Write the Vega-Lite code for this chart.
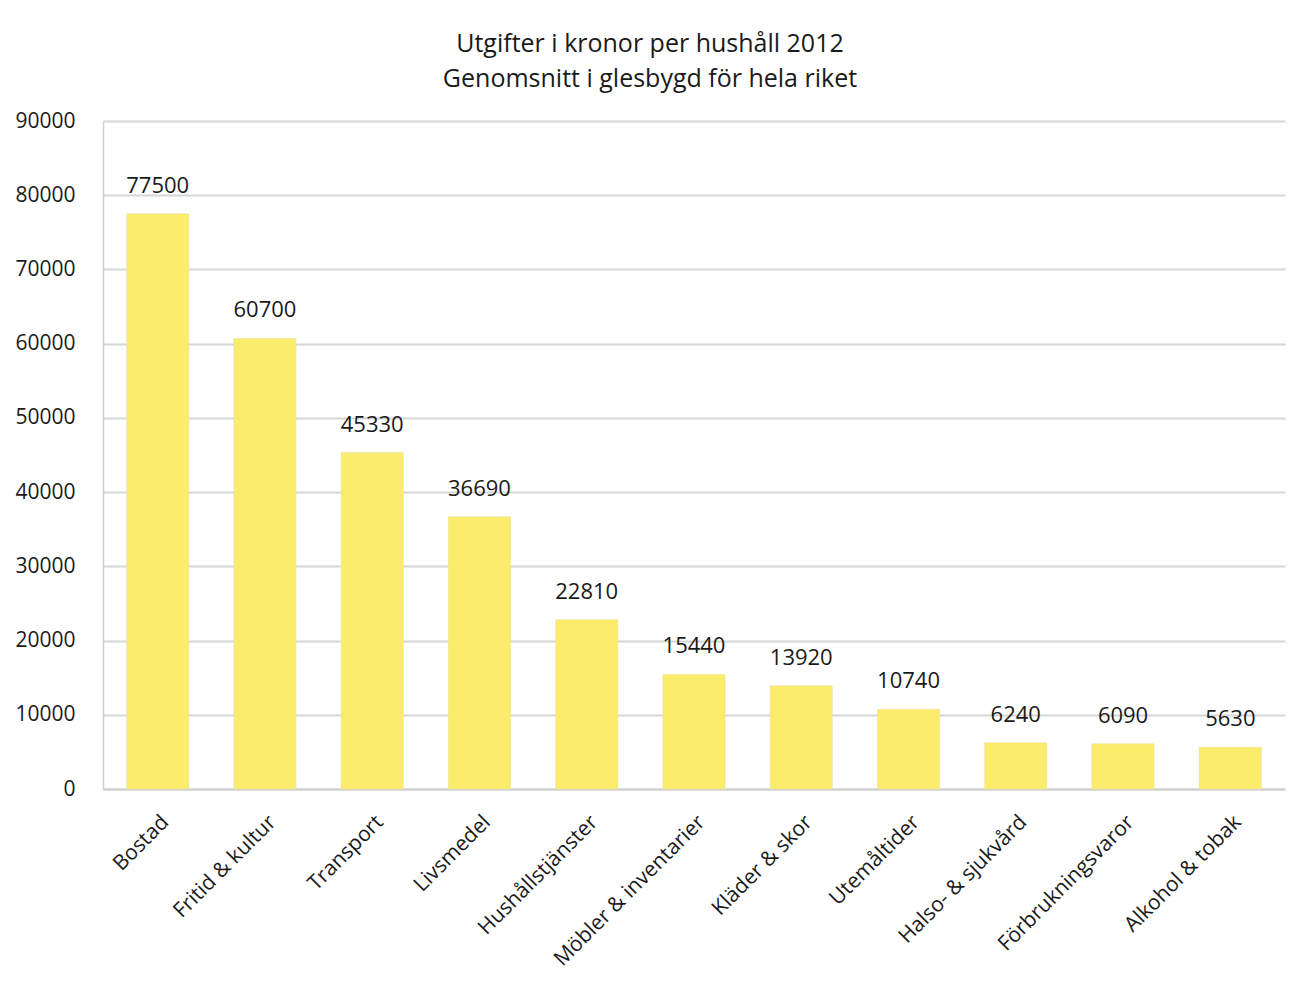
{
  "$schema": "https://vega.github.io/schema/vega-lite/v6.json",
  "width": 1301,
  "height": 981,
  "autosize": {"type": "fit", "contains": "padding"},
  "padding": {"left": 14, "top": 32, "right": 16, "bottom": 11},
  "background": "white",
  "config": {
    "font": "Open Sans",
    "view": {"stroke": null}
  },
  "title": {
    "text": ["Utgifter i kronor per hushåll 2012", "Genomsnitt i glesbygd för hela riket"],
    "fontSize": 25,
    "fontWeight": "normal",
    "color": "#1a1a1a",
    "lineHeight": 35,
    "anchor": "middle",
    "frame": "bounds",
    "offset": 18,
    "font": "Open Sans"
  },
  "data": {
    "values": [
      {"kategori": "Bostad", "kronor": 77500},
      {"kategori": "Fritid & kultur", "kronor": 60700},
      {"kategori": "Transport", "kronor": 45330},
      {"kategori": "Livsmedel", "kronor": 36690},
      {"kategori": "Hushållstjänster", "kronor": 22810},
      {"kategori": "Möbler & inventarier", "kronor": 15440},
      {"kategori": "Kläder & skor", "kronor": 13920},
      {"kategori": "Utemåltider", "kronor": 10740},
      {"kategori": "Halso- & sjukvård", "kronor": 6240},
      {"kategori": "Förbrukningsvaror", "kronor": 6090},
      {"kategori": "Alkohol & tobak", "kronor": 5630}
    ]
  },
  "encoding": {
    "x": {
      "field": "kategori",
      "type": "nominal",
      "sort": null,
      "title": null,
      "scale": {"paddingInner": 0.42, "paddingOuter": 0.22},
      "axis": {
        "labelAngle": -45,
        "labelFontSize": 21,
        "labelColor": "#1a1a1a",
        "labelPadding": 22,
        "labelLimit": 500,
        "ticks": false,
        "domainColor": "#d0d0d0",
        "domainWidth": 2
      }
    },
    "y": {
      "field": "kronor",
      "type": "quantitative",
      "title": null,
      "scale": {"domain": [0, 90000]},
      "axis": {
        "values": [0, 10000, 20000, 30000, 40000, 50000, 60000, 70000, 80000, 90000],
        "labelFontSize": 21,
        "labelColor": "#1a1a1a",
        "labelPadding": 28,
        "ticks": false,
        "domain": true,
        "domainColor": "#d0d0d0",
        "domainWidth": 1.5,
        "gridColor": "#d6d6d6",
        "gridWidth": 2,
        "format": "d"
      }
    }
  },
  "layer": [
    {
      "mark": {"type": "bar", "color": "#FCEC6C", "stroke": "#e8e0a0", "strokeWidth": 0.5}
    },
    {
      "mark": {"type": "text", "dy": -16, "fontSize": 22, "color": "#1a1a1a", "baseline": "bottom"},
      "encoding": {"text": {"field": "kronor", "type": "quantitative", "format": "d"}}
    }
  ]
}
